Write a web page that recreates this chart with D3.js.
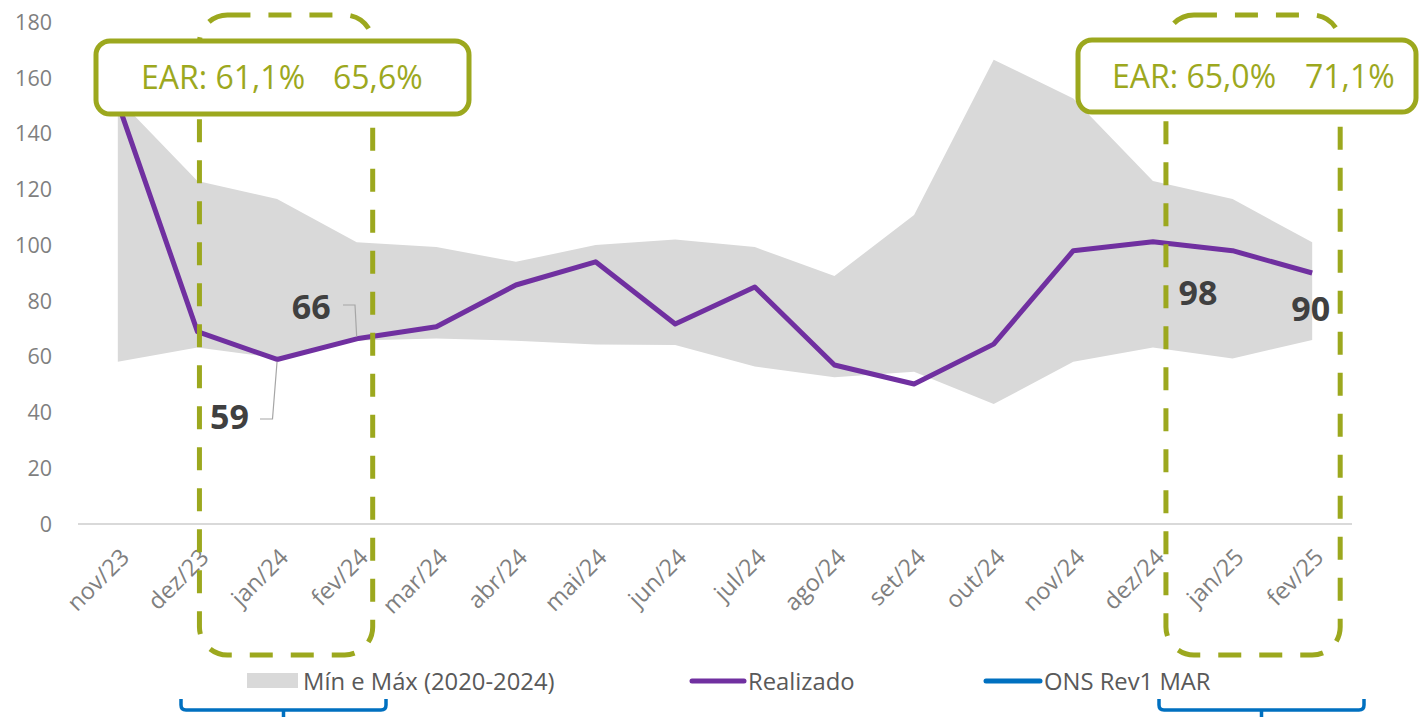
<!DOCTYPE html>
<html>
<head>
<meta charset="utf-8">
<script src="https://cdn.jsdelivr.net/npm/d3@7"></script>
<style>
  html, body { margin: 0; padding: 0; background: #fff; }
  svg { display: block; }
</style>
</head>
<body>
<svg id="chart" width="1419" height="717"></svg>
<script>
// ---------- data ----------
const months = ["nov/23","dez/23","jan/24","fev/24","mar/24","abr/24","mai/24","jun/24",
                "jul/24","ago/24","set/24","out/24","nov/24","dez/24","jan/25","fev/25"];
const realizado = [151, 69, 59, 66.4, 70.7, 85.7, 94, 71.7, 85, 57, 50.2, 64.5, 98, 101.2, 98, 90];
const maxSeries = [152.6, 123, 116.5, 101, 99.3, 94, 100, 102, 99.3, 88.9, 110.8, 166.5, 152.6, 123, 116.5, 101];
const minSeries = [58.2, 63.3, 59.5, 65.8, 66.5, 65.7, 64.4, 64.2, 56.5, 52.6, 54.6, 43, 58.2, 63.3, 59.3, 66];
const yTicks = [0, 20, 40, 60, 80, 100, 120, 140, 160, 180];
const legendLabels = ["Mín e Máx (2020-2024)", "Realizado", "ONS Rev1 MAR"];
const earLeft = ["EAR: 61,1%", "65,6%"];
const earRight = ["EAR: 65,0%", "71,1%"];
const labeledPoints = [
  {month: "jan/24", text: "59"},
  {month: "fev/24", text: "66"},
  {month: "jan/25", text: "98"},
  {month: "fev/25", text: "90"}
];

// ---------- setup ----------
const svg = d3.select("#chart");
const FONT = "'Open Sans', 'Noto Sans', sans-serif";
const olive = "#9ca81e";
const purple = "#7030a0";
const blue = "#0070c0";

const x = d3.scaleBand().domain(months).range([78, 1352]);
const cx = m => x(m) + x.bandwidth() / 2;
const y = d3.scaleLinear().domain([0, 180]).range([524, 22]);

const data = months.map((m, i) => ({m, r: realizado[i], lo: minSeries[i], hi: maxSeries[i]}));

// area
svg.append("path")
  .datum(data)
  .attr("fill", "#d9d9d9")
  .attr("d", d3.area().x(d => cx(d.m)).y0(d => y(d.lo)).y1(d => y(d.hi)));

// x axis line
svg.append("line")
  .attr("x1", x.range()[0]).attr("x2", x.range()[1])
  .attr("y1", y(0)).attr("y2", y(0))
  .attr("stroke", "#d9d9d9").attr("stroke-width", 2);

// y labels
svg.append("g").selectAll("text").data(yTicks).join("text")
  .attr("x", 52).attr("y", d => y(d)).attr("dy", "0.36em")
  .attr("text-anchor", "end")
  .attr("font-family", FONT).attr("font-size", 21.5).attr("fill", "#7f7f7f")
  .text(d => d);

// x labels
svg.append("g").selectAll("text").data(months).join("text")
  .attr("transform", d => `translate(${cx(d) + 7},${553}) rotate(-45)`)
  .attr("text-anchor", "end").attr("dy", "0.35em")
  .attr("font-family", FONT).attr("font-size", 23.5).attr("fill", "#7f7f7f")
  .text(d => d);

// realizado line
svg.append("path")
  .datum(data)
  .attr("fill", "none").attr("stroke", purple).attr("stroke-width", 5)
  .attr("stroke-linejoin", "round")
  .attr("d", d3.line().x(d => cx(d.m)).y(d => y(d.r)));

// dashed boxes
function dashedBox(x0, x1, y0, y1) {
  svg.append("rect")
    .attr("x", x0).attr("y", y0).attr("width", x1 - x0).attr("height", y1 - y0)
    .attr("rx", 28).attr("ry", 28)
    .attr("fill", "none").attr("stroke", olive).attr("stroke-width", 5)
    .attr("stroke-dasharray", "23 18");
}
dashedBox(cx("dez/23") + 2, cx("fev/24") + 16, 15, 655);
dashedBox(cx("dez/24") + 13, cx("fev/25") + 28, 15, 655);

// EAR boxes
function earBox(x0, x1, y0, y1, texts, tx) {
  svg.append("rect")
    .attr("x", x0).attr("y", y0).attr("width", x1 - x0).attr("height", y1 - y0)
    .attr("rx", 14).attr("ry", 14)
    .attr("fill", "#fff").attr("stroke", olive).attr("stroke-width", 5);
  texts.forEach((t, i) => {
    svg.append("text")
      .attr("x", tx[i]).attr("y", (y0 + y1) / 2).attr("dy", "0.36em")
      .attr("font-family", FONT).attr("font-size", 32).attr("fill", olive)
      .text(t);
  });
}
earBox(96, 469, 41, 114, earLeft, [141, 333]);
earBox(1078, 1416, 40, 112, earRight, [1112, 1305]);

// leader lines
const leader = d3.line();
svg.append("path").attr("fill", "none").attr("stroke", "#a6a6a6").attr("stroke-width", 1.2)
  .attr("d", leader([[260, 419], [272.5, 419], [cx("jan/24"), y(59) + 2]]));
svg.append("path").attr("fill", "none").attr("stroke", "#a6a6a6").attr("stroke-width", 1.2)
  .attr("d", leader([[343, 305], [355, 305], [cx("fev/24"), y(66.4) - 2]]));

// data labels
const labelPos = {
  "jan/24": [-67, 70],
  "fev/24": [-65, -20],
  "jan/25": [-54, 54],
  "fev/25": [-21, 48]
};
svg.append("g").selectAll("text").data(labeledPoints).join("text")
  .attr("x", d => cx(d.month) + labelPos[d.month][0])
  .attr("y", d => y(realizado[months.indexOf(d.month)]) + labelPos[d.month][1])
  .attr("font-family", FONT).attr("font-size", 34).attr("font-weight", "bold")
  .attr("fill", "#404040")
  .text(d => d.text);

// legend
const lg = svg.append("g").attr("font-family", FONT).attr("font-size", 23.8).attr("fill", "#595959");
lg.append("rect").attr("x", 247).attr("y", 673).attr("width", 51).attr("height", 15).attr("fill", "#d9d9d9");
lg.append("text").attr("x", 303).attr("y", 681).attr("dy", "0.36em").text(legendLabels[0]);
lg.append("line").attr("x1", 692).attr("x2", 744).attr("y1", 681).attr("y2", 681)
  .attr("stroke", purple).attr("stroke-width", 5).attr("stroke-linecap", "round");
lg.append("text").attr("x", 748).attr("y", 681).attr("dy", "0.36em").text(legendLabels[1]);
lg.append("line").attr("x1", 986).attr("x2", 1040).attr("y1", 681).attr("y2", 681)
  .attr("stroke", blue).attr("stroke-width", 5).attr("stroke-linecap", "round");
lg.append("text").attr("x", 1044).attr("y", 681).attr("dy", "0.36em").text(legendLabels[2]);

// braces
function brace(x0, x1) {
  const xm = (x0 + x1) / 2;
  const p = d3.path();
  p.moveTo(x0, 699);
  p.lineTo(x0, 705);
  p.quadraticCurveTo(x0, 710, x0 + 5, 710);
  p.lineTo(x1 - 5, 710);
  p.quadraticCurveTo(x1, 710, x1, 705);
  p.lineTo(x1, 699);
  p.moveTo(xm, 710);
  p.lineTo(xm, 720);
  svg.append("path").attr("d", p.toString()).attr("fill", "none")
    .attr("stroke", blue).attr("stroke-width", 3.5);
}
brace(181, 386);
brace(1159, 1364);
</script>
</body>
</html>
